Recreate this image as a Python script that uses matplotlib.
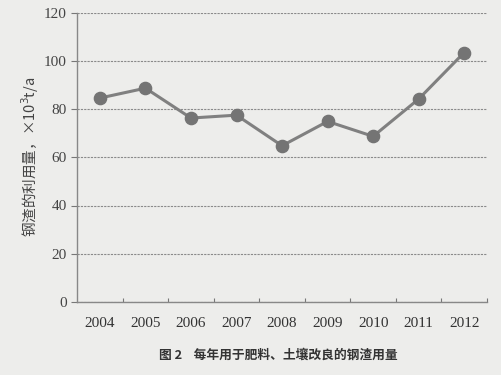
import matplotlib
matplotlib.use("Agg")
import matplotlib.pyplot as plt

# 年份和钢渣用量 (×10^3 t/a)
years = ['2004', '2005', '2006', '2007', '2008', '2009', '2010', '2011', '2012']
usage = [84.6, 88.7, 76.3, 77.5, 64.8, 74.9, 68.7, 84.2, 103.5]
y_ticks = [0, 20, 40, 60, 80, 100, 120]

bg = '#ededeb'
fig = plt.figure(figsize=(5.01, 3.75), dpi=100, facecolor=bg)
ax = fig.add_axes([0.154, 0.195, 0.818, 0.771], facecolor=bg)

x = list(range(len(years)))
ax.plot(x, usage, color='#808080', linewidth=2.2, marker='o', markersize=8.8,
        markerfacecolor='#747474', markeredgecolor='#747474', zorder=3)

ax.set_xlim(-0.5, len(years) - 0.5)
ax.set_ylim(0, 120)
ax.set_yticks(y_ticks)
ax.grid(True, axis='y', color='#8a8a8a', linestyle=(0, (2, 1)), linewidth=0.8)

# 类别边界处的小刻度
ax.set_xticks([i + 0.5 for i in x], minor=False)
ax.set_xticklabels([])
ax.set_xticks(x, minor=True)
ax.set_xticklabels(years, minor=True)
ax.tick_params(axis='x', which='major', direction='in', length=3, color='#777777')
ax.tick_params(axis='x', which='minor', length=0, pad=11, labelsize=11, labelcolor='#333333')
ax.tick_params(axis='y', direction='out', length=4, color='#777777', labelsize=11,
               labelcolor='#444444')
for lab in ax.get_xticklabels(minor=True) + ax.get_yticklabels():
    lab.set_fontfamily('Liberation Serif')

for s in ['top', 'right']:
    ax.spines[s].set_visible(False)
for s in ['left', 'bottom']:
    ax.spines[s].set_color('#888888')
    ax.spines[s].set_linewidth(1.0)
    ax.spines[s].set_linestyle((0, (2, 1)))

ax.set_ylabel('钢渣的利用量，×10$^3$t/a', fontsize=10.5, color='#444444',
              family=['Noto Sans CJK SC', 'DejaVu Sans'], labelpad=2)

fig.text(0.555, 0.053, '图 2    每年用于肥料、土壤改良的钢渣用量', ha='center', va='center',
         fontsize=9.2, color='#333333', fontweight='bold',
         family=['Noto Sans CJK SC', 'DejaVu Sans'])

fig.savefig('out.png', dpi=100, facecolor=bg)
